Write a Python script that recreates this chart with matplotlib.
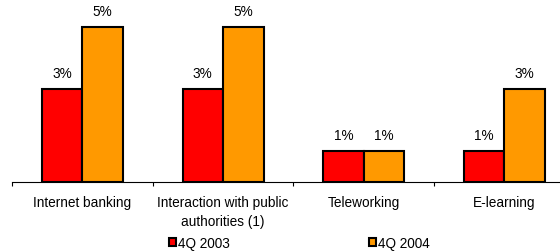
import numpy as np
import matplotlib.pyplot as plt
from matplotlib.ticker import FixedLocator

plt.rcParams['font.family'] = ['Liberation Sans', 'DejaVu Sans']

# --- DATA ---
categories = ["Internet banking", "Interaction with public\nauthorities (1)",
              "Teleworking", "E-learning"]
series_names = ["4Q 2003", "4Q 2004"]
values_2003 = [3, 3, 1, 1]
values_2004 = [5, 5, 1, 3]
colors = ["#FF0000", "#FF9900"]

FS = 9.8

fig = plt.figure(figsize=(5.6, 2.53), dpi=100)
# axes spans x 12..560 px, y 0..182.7 px (from top)
ax = fig.add_axes([12 / 560, 1 - 182.7 / 253, 548 / 560, 182.7 / 253])

cat_px = 140.7
w = 40.5 / cat_px
x = np.arange(len(categories))

bars = []
for k, vals in enumerate([values_2003, values_2004]):
    offs = (k - 0.5) * w
    b = ax.bar(x + offs, vals, width=w, color=colors[k], edgecolor="black",
               linewidth=1.5, label=series_names[k], zorder=3)
    bars.append(b)
    for xi, v in zip(x + offs, vals):
        ax.annotate(f"{v}%", (xi, v), xytext=(0, 11.6), textcoords="offset points",
                    ha="center", va="center", fontsize=FS)

ax.set_xlim(-0.5, -0.5 + 548 / cat_px)
ax.set_ylim(0, 182.7 / 30.9)

for s in ["left", "right", "top"]:
    ax.spines[s].set_visible(False)
ax.spines["bottom"].set_linewidth(0.8)
ax.set_yticks([])

ax.set_xticks(x)
ax.set_xticklabels(categories, fontsize=FS, linespacing=1.45)
ax.tick_params(axis="x", which="major", length=0, pad=9.8)
ax.xaxis.set_minor_locator(FixedLocator(np.arange(len(categories)) - 0.5))
ax.tick_params(axis="x", which="minor", length=3, width=0.8, direction="out")

fig.legend(handles=bars, labels=series_names, ncol=2, frameon=False,
           loc="center left", bbox_to_anchor=(169 / 560, 1 - 244 / 253),
           borderaxespad=0, borderpad=0, handlelength=0.55, handleheight=0.55,
           handletextpad=0.12, columnspacing=10.2, fontsize=FS)

fig.savefig("out.png", dpi=100)
